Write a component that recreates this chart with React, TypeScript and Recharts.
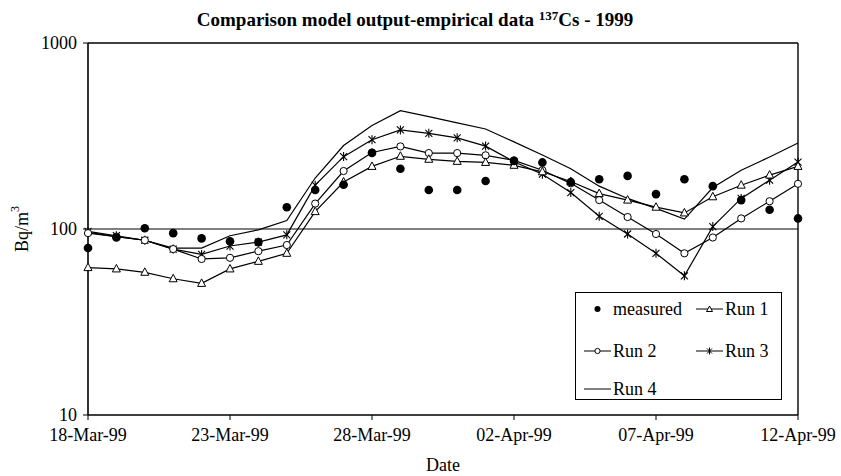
import React from "react";
import { LineChart, Line, XAxis, YAxis, ReferenceLine, Legend } from "recharts";

const dates = [
  "18-Mar-99", "19-Mar-99", "20-Mar-99", "21-Mar-99", "22-Mar-99", "23-Mar-99", "24-Mar-99",
  "25-Mar-99", "26-Mar-99", "27-Mar-99", "28-Mar-99", "29-Mar-99", "30-Mar-99", "31-Mar-99",
  "01-Apr-99", "02-Apr-99", "03-Apr-99", "04-Apr-99", "05-Apr-99", "06-Apr-99", "07-Apr-99",
  "08-Apr-99", "09-Apr-99", "10-Apr-99", "11-Apr-99", "12-Apr-99",
];
const measured = [79, 90, 101, 95, 89, 86, 85, 131, 162, 173, 256, 211, 162, 162, 181, 232, 228, 179, 185, 193, 154, 185, 170, 143, 127, 114];
const run1 = [62, 61, 58.5, 54, 51, 61, 67, 74, 124, 179, 217, 246, 237, 231, 228, 220, 203, 180, 155, 143, 131, 122, 149, 172, 195, 217];
const run2 = [95, 91, 87, 78, 69, 70, 76, 82, 137, 205, 258, 278, 256, 256, 249, 234, 207, 176, 143, 116, 94, 74, 90, 114, 141, 175];
const run3 = [97, 92, 87, 78, 73, 81, 85, 93, 172, 245, 302, 341, 327, 309, 279, 230, 197, 157, 117, 94, 74, 56, 103, 146, 183, 229];
const run4 = [96, 91, 87, 79, 79, 92, 99, 111, 188, 281, 360, 433, 402, 372, 345, 294, 250, 211, 170, 146, 129, 113, 167, 207, 244, 290];
const yTicks = [10, 100, 1000];

const data = dates.map((d, i) => ({
  date: d,
  measured: measured[i],
  run1: run1[i],
  run2: run2[i],
  run3: run3[i],
  run4: run4[i],
}));

const FONT = "'Liberation Serif', 'Times New Roman', serif";

const TriangleDot = (p: any) => {
  const { cx, cy, index } = p;
  if (cx == null || cy == null) return <g key={index} />;
  return (
    <polygon
      key={index}
      points={`${cx},${cy - 4.5} ${cx - 4},${cy + 3} ${cx + 4},${cy + 3}`}
      fill="white"
      stroke="black"
      strokeWidth={1}
    />
  );
};
const CircleDot = (p: any) => {
  const { cx, cy, index } = p;
  if (cx == null || cy == null) return <g key={index} />;
  return <circle key={index} cx={cx} cy={cy} r={3.6} fill="white" stroke="black" strokeWidth={1} />;
};
const StarDot = (p: any) => {
  const { cx, cy, index } = p;
  if (cx == null || cy == null) return <g key={index} />;
  return (
    <g key={index} stroke="black" strokeWidth={1.1}>
      <line x1={cx - 3.5} y1={cy - 3.5} x2={cx + 3.5} y2={cy + 3.5} />
      <line x1={cx - 3.5} y1={cy + 3.5} x2={cx + 3.5} y2={cy - 3.5} />
      <line x1={cx} y1={cy - 4.5} x2={cx} y2={cy + 4.5} />
    </g>
  );
};
const FilledDot = (p: any) => {
  const { cx, cy, index } = p;
  if (cx == null || cy == null) return <g key={index} />;
  return <circle key={index} cx={cx} cy={cy} r={4.3} fill="black" stroke="none" />;
};

const LegendSample = ({ kind }: { kind: string }) => (
  <svg width={27} height={12} style={{ display: "block" }}>
    {kind !== "measured" && <line x1={0} y1={6} x2={27} y2={6} stroke="black" strokeWidth={1} />}
    {kind === "measured" && <circle cx={13.5} cy={6} r={3} fill="black" />}
    {kind === "run1" && <polygon points="13.5,3 10.5,8.5 16.5,8.5" fill="white" stroke="black" strokeWidth={1} />}
    {kind === "run2" && <circle cx={13.5} cy={6} r={2.6} fill="white" stroke="black" strokeWidth={1} />}
    {kind === "run3" && (
      <g stroke="black" strokeWidth={1}>
        <line x1={11} y1={3.5} x2={16} y2={8.5} />
        <line x1={11} y1={8.5} x2={16} y2={3.5} />
        <line x1={13.5} y1={2.5} x2={13.5} y2={9.5} />
      </g>
    )}
  </svg>
);

const legendItems = [
  { kind: "measured", label: "measured", x: 8, y: 16 },
  { kind: "run1", label: "Run 1", x: 120, y: 16 },
  { kind: "run2", label: "Run 2", x: 8, y: 58 },
  { kind: "run3", label: "Run 3", x: 120, y: 58 },
  { kind: "run4", label: "Run 4", x: 8, y: 96 },
];

const renderLegend = () => (
  <div
    style={{
      position: "relative",
      width: 207,
      height: 108,
      border: "1px solid black",
      background: "white",
      boxSizing: "border-box",
      fontFamily: FONT,
      fontSize: 18,
      color: "black",
    }}
  >
    {legendItems.map((it) => (
      <div
        key={it.kind}
        style={{ position: "absolute", left: it.x, top: it.y - 9, height: 18, display: "flex", alignItems: "center", whiteSpace: "nowrap" }}
      >
        <LegendSample kind={it.kind} />
        <span style={{ marginLeft: 2, lineHeight: "18px" }}>{it.label}</span>
      </div>
    ))}
  </div>
);

const YLabel = () => {
  const cx = 22;
  const cy = 229;
  return (
    <text
      x={cx}
      y={cy}
      transform={`rotate(-90 ${cx} ${cy})`}
      textAnchor="middle"
      dominantBaseline="central"
      fontFamily={FONT}
      fontSize={18}
      fill="black"
    >
      Bq/m<tspan fontSize={12} dy={-7}>3</tspan>
    </text>
  );
};

export default function App() {
  return (
    <div style={{ position: "absolute", left: 0, top: 0, width: 841, height: 476, background: "white" }}>
      <div
        style={{
          position: "absolute",
          left: 0,
          top: 6,
          width: 830,
          textAlign: "center",
          fontFamily: FONT,
          fontWeight: "bold",
          fontSize: 19,
          lineHeight: "20px",
          color: "black",
          whiteSpace: "nowrap",
          zIndex: 2,
        }}
      >
        Comparison model output-empirical data <sup style={{ fontSize: 13, verticalAlign: "6px" }}>137</sup>Cs - 1999
      </div>
      <LineChart
        width={841}
        height={476}
        data={data}
        margin={{ top: 43, right: 43, bottom: 0, left: 0 }}
        style={{ position: "absolute", left: 0, top: 0 }}
      >
        <XAxis
          dataKey="date"
          interval={4}
          height={61}
          tick={{ fontFamily: FONT, fontSize: 18, fill: "black" }}
          tickSize={5}
          tickMargin={8}
          tickLine={{ stroke: "black", strokeWidth: 1 }}
          axisLine={{ stroke: "black", strokeWidth: 1.6 }}
          label={{ value: "Date", position: "insideBottom", offset: 5, fontFamily: FONT, fontSize: 18, fill: "black" }}
        />
        <YAxis
          type="number"
          scale="log"
          domain={[10, 1000]}
          ticks={yTicks}
          allowDataOverflow
          width={88}
          tick={{ fontFamily: FONT, fontSize: 18, fill: "black" }}
          tickSize={5}
          tickMargin={6}
          tickLine={{ stroke: "black", strokeWidth: 1 }}
          axisLine={{ stroke: "black", strokeWidth: 1.6 }}
          label={<YLabel />}
        />
        <ReferenceLine y={100} stroke="black" strokeWidth={1} />
        <ReferenceLine y={1000} stroke="black" strokeWidth={1.4} />
        <ReferenceLine x="12-Apr-99" stroke="black" strokeWidth={1.4} />
        <Line dataKey="run4" stroke="black" strokeWidth={1.2} dot={false} isAnimationActive={false} />
        <Line dataKey="run3" stroke="black" strokeWidth={1.2} dot={StarDot} isAnimationActive={false} />
        <Line dataKey="run2" stroke="black" strokeWidth={1.2} dot={CircleDot} isAnimationActive={false} />
        <Line dataKey="run1" stroke="black" strokeWidth={1.2} dot={TriangleDot} isAnimationActive={false} />
        <Line dataKey="measured" stroke="none" dot={FilledDot} isAnimationActive={false} />
        <Legend
          layout="vertical"
          align="center"
          verticalAlign="middle"
          content={renderLegend}
          wrapperStyle={{ position: "absolute", left: 575, top: 292, width: 207, height: 108 }}
        />
      </LineChart>
    </div>
  );
}
